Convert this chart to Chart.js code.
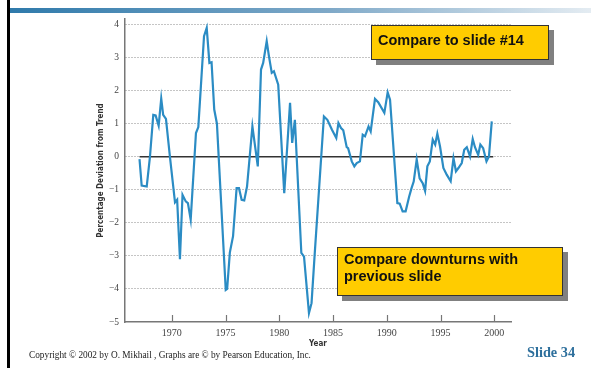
<!DOCTYPE html>
<html>
<head>
<meta charset="utf-8">
<script src="https://cdn.jsdelivr.net/npm/chart.js@4/dist/chart.umd.min.js"></script>
<style>
  html, body { margin: 0; padding: 0; background: #fff; }
  body { width: 591px; height: 368px; position: relative; overflow: hidden; }
  #side-bar { position: absolute; left: 7px; top: 0; width: 3px; height: 368px; background: #000; }
  #top-bar { position: absolute; left: 10px; top: 8px; width: 581px; height: 5px;
             background: linear-gradient(to right, #2f7aab, #7fa9c8 55%, #e4ecf2); }
  #chart { position: absolute; left: 0; top: 0; }
  .note { position: absolute; background: #ffcc00; border: 1px solid #333;
          box-shadow: 5px 5px 0 #808080; font: bold 14.5px "Liberation Sans", Arial, sans-serif;
          color: #111; line-height: 17px; box-sizing: border-box; }
  #note1 { left: 371px; top: 25px; width: 178px; height: 35px; padding: 6px 0 0 6px; }
  #note2 { left: 337px; top: 247px; width: 226px; height: 49px; padding: 3px 0 0 6px; }
  #copyright { position: absolute; left: 29px; top: 350px; font: 9.3px "Liberation Serif", "Times New Roman", serif; color: #222; }
  #slide-no { position: absolute; left: 527px; top: 344px; font: bold 14.3px "Liberation Serif", "Times New Roman", serif; color: #2d6f9c; }
</style>
</head>
<body>
<div id="side-bar"></div>
<div id="top-bar"></div>
<canvas id="chart" width="591" height="368"></canvas>
<div class="note" id="note1">Compare to slide #14</div>
<div class="note" id="note2">Compare downturns with<br>previous slide</div>
<div id="copyright">Copyright © 2002 by O. Mikhail , Graphs are © by Pearson Education, Inc.</div>
<div id="slide-no">Slide 34</div>

<script>
// 產出偏離趨勢 (%)，年份為小數 (季度)
const years = [
  1967.0, 1967.2, 1967.67, 1967.97, 1968.28, 1968.5, 1968.78, 1969.02, 1969.2, 1969.46,
  1969.83, 1970.3, 1970.5, 1970.76, 1971.0, 1971.3, 1971.5, 1971.76, 1972.25, 1972.47,
  1973.0, 1973.25, 1973.5, 1973.7, 1973.95, 1974.2, 1975.02, 1975.15, 1975.4, 1975.7,
  1976.03, 1976.25, 1976.5, 1976.74, 1977.0, 1977.5, 1978.0, 1978.3, 1978.5, 1978.83,
  1979.04, 1979.3, 1979.5, 1979.9, 1980.46, 1981.0, 1981.2, 1981.45, 1982.05, 1982.3,
  1982.76, 1983.0, 1983.3, 1984.15, 1984.47, 1984.9, 1985.3, 1985.5, 1985.74, 1985.95,
  1986.27, 1986.4, 1986.74, 1986.98, 1987.2, 1987.5, 1987.76, 1987.97, 1988.3, 1988.5,
  1988.9, 1989.2, 1989.77, 1990.08, 1990.3, 1990.98, 1991.2, 1991.47, 1991.75, 1992.08,
  1992.3, 1992.5, 1992.78, 1993.05, 1993.35, 1993.56, 1993.77, 1994.0, 1994.27, 1994.5,
  1994.7, 1994.95, 1995.26, 1995.57, 1995.94, 1996.2, 1996.43, 1996.66, 1996.97, 1997.2,
  1997.44, 1997.74, 1997.99, 1998.2, 1998.5, 1998.7, 1998.96, 1999.27, 1999.5, 1999.76
];
const deviation = [
  -0.07, -0.87, -0.9, 0.0, 1.27, 1.25, 0.94, 1.76, 1.27, 1.15,
  0.0, -1.38, -1.3, -3.1, -1.15, -1.35, -1.4, -1.9, 0.72, 0.9,
  3.65, 3.9, 2.84, 2.86, 1.43, 1.0, -4.03, -4.0, -2.9, -2.4,
  -0.95, -0.95, -1.3, -1.32, -0.9, 0.92, -0.29, 2.64, 2.84, 3.5,
  3.04, 2.54, 2.59, 2.18, -1.1, 1.63, 0.42, 1.12, -2.91, -3.02,
  -4.73, -4.43, -2.91, 1.22, 1.12, 0.82, 0.57, 1.02, 0.87, 0.8,
  0.29, 0.26, -0.14, -0.29, -0.19, -0.14, 0.67, 0.62, 0.92, 0.77,
  1.75, 1.65, 1.33, 1.95, 1.73, -1.4, -1.42, -1.65, -1.65, -1.2,
  -0.95, -0.75, -0.08, -0.65, -0.81, -1.03, -0.29, -0.14, 0.52, 0.37,
  0.7, 0.31, -0.34, -0.54, -0.74, -0.04, -0.44, -0.34, -0.19, 0.21,
  0.29, 0.01, 0.54, 0.29, 0.06, 0.37, 0.26, -0.14, 0.01, 1.07
];
// 趨勢線 (0%)
const trendYears = [1967.0, 1999.9];
const trendValues = [0, 0];
const xTickYears = [1970, 1975, 1980, 1985, 1990, 1995, 2000];

const toPoints = (xs, ys) => xs.map((x, i) => ({ x: x, y: ys[i] }));

// 往內畫的 x 軸刻度
const innerTicks = {
  id: 'innerTicks',
  afterDatasetsDraw(chart) {
    const { ctx, scales: { x }, chartArea } = chart;
    ctx.save();
    ctx.strokeStyle = '#777';
    ctx.lineWidth = 1.2;
    xTickYears.forEach(yr => {
      const px = Math.round(x.getPixelForValue(yr)) + 0.5;
      ctx.beginPath();
      ctx.moveTo(px, chartArea.bottom);
      ctx.lineTo(px, chartArea.bottom - 7);
      ctx.stroke();
    });
    ctx.restore();
  }
};

const axisFont = { family: '"Liberation Serif", "Times New Roman", serif', size: 10 };
const titleFont = { family: '"Liberation Sans Narrow", "DejaVu Sans Condensed", sans-serif', size: 8, weight: 'bold' };

new Chart(document.getElementById('chart'), {
  type: 'line',
  data: {
    datasets: [
      {
        data: toPoints(years, deviation),
        borderColor: '#2b8cc4',
        borderWidth: 2.2,
        pointRadius: 0,
        tension: 0,
        order: 1
      },
      {
        data: toPoints(trendYears, trendValues),
        borderColor: '#333',
        borderWidth: 1.5,
        pointRadius: 0,
        order: 2
      }
    ]
  },
  options: {
    responsive: false,
    animation: false,
    layout: { padding: { left: 92, top: 19, right: 80, bottom: 0 } },
    plugins: { legend: { display: false }, tooltip: { enabled: false } },
    scales: {
      x: {
        type: 'linear',
        min: 1965.65,
        max: 2001.55,
        afterFit: s => { s.height = 46; },
        afterBuildTicks: s => { s.ticks = xTickYears.map(v => ({ value: v })); },
        grid: { display: false, drawTicks: false },
        border: { color: '#777', width: 1.5 },
        ticks: { padding: 5, color: '#444', font: axisFont, callback: v => String(v) },
        title: {
          display: true,
          text: 'Year',
          color: '#333',
          font: titleFont,
          padding: { top: 0, bottom: 19 }
        }
      },
      y: {
        min: -5,
        max: 4.17,
        afterFit: s => { s.width = 33; },
        ticks: {
          stepSize: 1,
          includeBounds: false,
          padding: 6,
          color: '#444',
          font: { family: axisFont.family, size: 9.5 },
          callback: v => (v < 0 ? '\u2212' + Math.abs(v) : String(v))
        },
        grid: {
          drawTicks: false,
          color: c => (c.tick && c.tick.value > -5 ? '#8a8a8a' : 'rgba(0,0,0,0)'),
          lineWidth: 1
        },
        // 格線用點線
        border: { color: '#777', width: 1.5, dash: [1, 2] },
        title: {
          display: true,
          text: 'Percentage Deviation from Trend',
          color: '#333',
          font: titleFont,
          padding: { top: 4, bottom: 4 }
        }
      }
    }
  },
  plugins: [innerTicks]
});
</script>
</body>
</html>
